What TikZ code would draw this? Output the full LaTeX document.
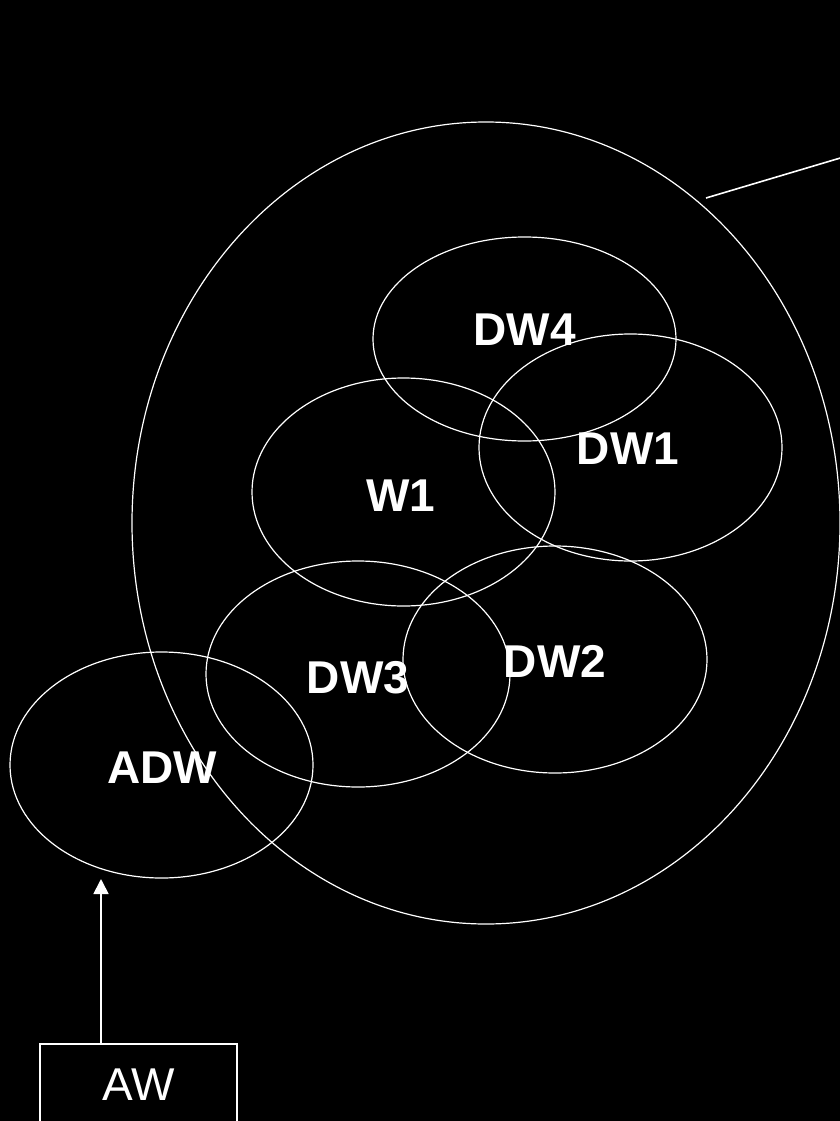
\documentclass[tikz,border=0pt]{standalone}
\usepackage{fontspec}
\setmainfont{Liberation Sans}
\usetikzlibrary{shapes.geometric,arrows.meta}
\begin{document}
\begin{tikzpicture}[x=1pt,y=-1pt,
  ring/.style={draw=white,line width=1.2pt,ellipse,inner sep=0pt},
  lbl/.style={text=white,font=\fontsize{46}{50}\selectfont\bfseries,anchor=base,inner sep=0pt},
  wire/.style={draw=white,line width=1.8pt}]
\fill[black] (0,0) rectangle (840,1121);
\useasboundingbox (0,0) rectangle (840,1121);
% outer ellipse
\node[ring,minimum width=708pt,minimum height=802pt] (big) at (486,523) {};
% inner ellipses
\node[ring,minimum width=303pt,minimum height=204pt] (dw4) at (524.5,339) {};
\node[ring,minimum width=303pt,minimum height=227pt] (dw1) at (630.5,447.5) {};
\node[ring,minimum width=303pt,minimum height=228pt] (w1) at (403.5,492) {};
\node[ring,minimum width=304pt,minimum height=226pt] (dw3) at (358,674) {};
\node[ring,minimum width=304pt,minimum height=227pt] (dw2) at (555,659.5) {};
\node[ring,minimum width=303pt,minimum height=226pt] (adw) at (161.5,765) {};
% labels
\node[lbl] (tdw4) at (524.5,345) {DW4};
\node[lbl] (tdw1) at (628,464) {DW1};
\node[lbl] (tw1) at (401,511) {W1};
\node[lbl] (tdw3) at (358,693) {DW3};
\node[lbl] (tdw2) at (555,677) {DW2};
\node[lbl] (tadw) at (162,783) {ADW};
% line to the right
\coordinate (ls) at (706,198);
\coordinate (le) at (842,157.5);
\draw[white,line width=1.6pt] (ls) -- (le);
% AW box and arrow
\node[wire,rectangle,minimum width=197pt,minimum height=82pt,inner sep=0pt,
      text=white,font=\fontsize{46}{50}\selectfont] (aw) at (138.5,1085) {AW};
\coordinate (tip) at (101,879);
\draw[white,line width=1.8pt,-{Triangle[width=15pt,length=15pt]}] (aw.north -| tip) -- (tip);
\end{tikzpicture}
\end{document}
